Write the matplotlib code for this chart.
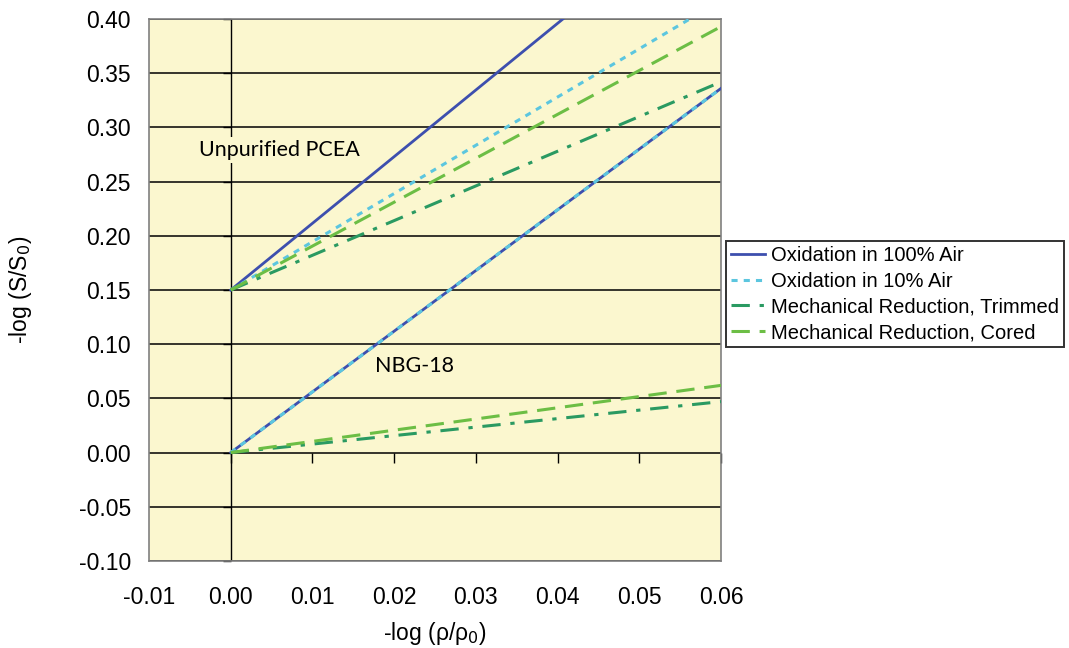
import numpy as np
import matplotlib
matplotlib.use("Agg")
import matplotlib.pyplot as plt
from matplotlib.markers import TICKLEFT, TICKDOWN

# -log(rho/rho0) end points of each straight line
x_pts = [0.0, 0.06]

# Unpurified PCEA curves, -log(S/S0)
pcea_air100 = [0.15, 0.519]
pcea_air10 = [0.15, 0.417]
pcea_trimmed = [0.15, 0.342]
pcea_cored = [0.15, 0.393]

# NBG-18 curves
nbg_air100 = [0.0, 0.336]
nbg_air10 = [0.0, 0.336]
nbg_trimmed = [0.0, 0.047]
nbg_cored = [0.0, 0.062]

series_labels = ["Oxidation in 100% Air", "Oxidation in 10% Air",
                 "Mechanical Reduction, Trimmed", "Mechanical Reduction, Cored"]

xticks = [-0.01, 0.00, 0.01, 0.02, 0.03, 0.04, 0.05, 0.06]
yticks = [-0.10, -0.05, 0.00, 0.05, 0.10, 0.15, 0.20, 0.25, 0.30, 0.35, 0.40]

c_air100 = "#3D4FAE"
c_air10 = "#5CC6DF"
c_trim = "#2A9A62"
c_cored = "#6CBE45"
bg = "#FBF7CF"

plt.rcParams["font.family"] = ["Liberation Sans", "DejaVu Sans"]

fig = plt.figure(figsize=(10.69, 6.48), dpi=100)
ax = fig.add_axes([0.1394, 0.1343, 0.5351, 0.8364])
ax.set_facecolor(bg)

styles = [
    dict(color=c_air100, ls="-", lw=2.0),
    dict(color=c_air10, ls=(0, (2.0, 2.0)), lw=2.2),
    dict(color=c_trim, ls=(0, (6.0, 3.2, 1.4, 3.2)), lw=2.2),
    dict(color=c_cored, ls=(0, (6.0, 3.2)), lw=2.2),
]

# PCEA set (carries the legend entries)
for y, st, lab in zip([pcea_air100, pcea_air10, pcea_trimmed, pcea_cored], styles, series_labels):
    ax.plot(x_pts, y, label=lab, zorder=3, **st)
# NBG-18 set
for y, st in zip([nbg_air100, nbg_air10, nbg_trimmed, nbg_cored], styles):
    ax.plot(x_pts, y, zorder=3, **st)

ax.set_xlim(-0.01, 0.06)
ax.set_ylim(-0.10, 0.40)
ax.set_xticks(xticks)
ax.set_yticks(yticks)
ax.set_xticklabels([f"{v:.2f}" for v in xticks])
ax.set_yticklabels([f"{v:.2f}" for v in yticks])
ax.tick_params(length=0, labelsize=16.5)
ax.tick_params(axis="x", pad=18)
ax.tick_params(axis="y", pad=13)

# horizontal gridlines + crossing axis at x=0
for yv in yticks:
    ax.axhline(yv, color="black", lw=1.1, zorder=1)
ax.axvline(0, color="black", lw=1.0, zorder=1)
# small tick marks on the crossing axes
ax.plot(np.zeros(len(yticks)), yticks, ls="none", marker=TICKLEFT, ms=6,
        mew=1.0, color="black", zorder=2, clip_on=False)
ax.plot(xticks[1:], np.zeros(len(xticks) - 1), ls="none", marker=TICKDOWN, ms=7,
        mew=1.0, color="black", zorder=2, clip_on=False)

for sp in ax.spines.values():
    sp.set_color("#808080")
    sp.set_linewidth(1.2)

ax.set_xlabel("-log (\u03c1/\u03c1$_0$)", fontsize=16.5, va="center")
ax.xaxis.set_label_coords(0.5, -0.133)
ax.set_ylabel("-log (S/S$_0$)", fontsize=16.5, va="center")
ax.yaxis.set_label_coords(-0.224, 0.5)

ax.text(0.006, 0.279, "Unpurified PCEA", fontsize=15.5, family=["Lato", "DejaVu Sans"],
        ha="center", va="center", zorder=2,
        bbox=dict(facecolor=bg, edgecolor="none", pad=2))
ax.text(0.0225, 0.080, "NBG-18", fontsize=15.5, family=["Lato", "DejaVu Sans"],
        ha="center", va="center", zorder=2)

leg = ax.legend(loc="upper left", bbox_to_anchor=(1.008, 0.59), fontsize=14.5,
                frameon=True, fancybox=False, handlelength=1.7, handletextpad=0.3,
                borderpad=0.25, labelspacing=0.33, borderaxespad=0)
leg.get_frame().set_edgecolor("black")
leg.get_frame().set_linewidth(1.4)

fig.savefig("out.png", dpi=100)
